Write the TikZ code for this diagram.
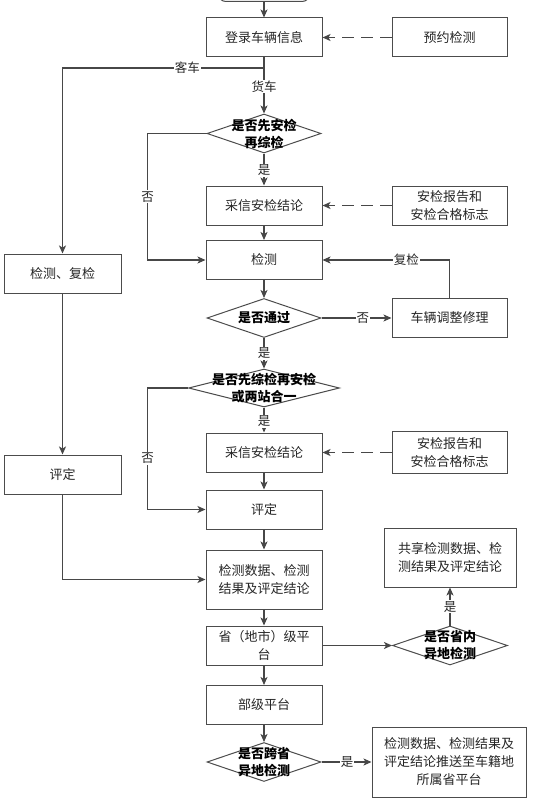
\documentclass[tikz,border=0pt]{standalone}
\usepackage{fontspec}
\setmainfont{Noto Sans CJK SC}
\usetikzlibrary{shapes.geometric,arrows.meta}

\begin{document}
\begin{tikzpicture}[x=1pt,y=-1pt,
  line/.style={draw=black!72,line width=1.2pt},
  arrow/.style={line,-{Stealth[length=8pt,width=7pt,inset=2pt]}},
  dasharrow/.style={arrow,dash pattern=on 12pt off 7pt},
  box/.style={draw=black!70,line width=1pt,minimum width=116pt,minimum height=39pt,
    inner sep=2pt,align=center,font=\fontsize{13}{18}\selectfont,text=black!85},
  decision/.style={diamond,draw=black!70,line width=1pt,minimum width=114pt,
    minimum height=39pt,inner sep=0pt},
  dtext/.style={font=\fontsize{13}{17}\selectfont\bfseries,align=center,inner sep=0pt},
  elabel/.style={fill=white,inner sep=1pt,font=\fontsize{12.5}{14}\selectfont,text=black!85}]
\useasboundingbox (0,0) rectangle (552,808);
\node[box,rounded corners=8pt,minimum width=92pt] (start) at (264,-18) {};
\node[box] (login) at (264,37.5) {登录车辆信息};
\node[box,minimum width=115pt] (reserve) at (449.5,37.5) {预约检测};
\node[decision,label={[dtext]center:{是否先安检\\再综检}}] (d1) at (264,133.5) {};
\node[box] (adopt1) at (264,205.5) {采信安检结论};
\node[box,minimum width=115pt] (report1) at (449.5,205.5) {安检报告和\\安检合格标志};
\node[box] (check) at (264,260) {检测};
\node[box,minimum width=117pt] (recheck) at (62.5,273.5) {检测、复检};
\node[decision,label={[dtext]center:是否通过}] (pass) at (264,318) {};
\node[box,minimum width=115pt] (repair) at (449.5,318) {车辆调整修理};
\node[decision,minimum width=151pt,minimum height=38pt,
  label={[dtext]center:{是否先综检再安检\\或两站合一}}] (d2) at (264,388) {};
\node[box] (adopt2) at (264,452.5) {采信安检结论};
\node[box,minimum width=115pt,minimum height=42pt] (report2) at (449.5,452.5) {安检报告和\\安检合格标志};
\node[box] (assess) at (264,509.5) {评定};
\node[box,minimum width=117pt] (assessl) at (62.5,474.5) {评定};
\node[box,minimum height=59pt] (data) at (264,579.5) {检测数据、检测\\结果及评定结论};
\node[box,minimum width=132pt,minimum height=59pt] (share) at (450,557.5) {共享检测数据、检\\测结果及评定结论};
\node[box] (prov) at (264,645.5) {省（地市）级平\\台};
\node[decision,minimum width=115pt,label={[dtext]center:{是否省内\\异地检测}}] (d3) at (450,645.5) {};
\node[box] (nation) at (264,705) {部级平台};
\node[decision,label={[dtext]center:{是否跨省\\异地检测}}] (d4) at (264,762) {};
\node[box,minimum width=154pt,minimum height=70pt] (push) at (449,762) {检测数据、检测结果及\\评定结论推送至车籍地\\所属省平台};
\coordinate (split) at (264,68);
\draw[arrow] (start) -- (login);
\draw[dasharrow] (reserve) -- (login);
\draw[line] (login) -- (split);
\draw[arrow] (split) -| node[elabel,pos=.19]{客车} (recheck);
\draw[arrow] (split) -- node[elabel,pos=.41]{货车} (d1);
\draw[arrow] (d1.west) -- ++(-59,0) |- node[elabel,pos=.25]{否} (check);
\draw[arrow] (d1) -- node[elabel,pos=.52]{是} (adopt1);
\draw[dasharrow] (report1) -- (adopt1);
\draw[arrow] (adopt1) -- (check);
\draw[arrow] (check) -- (pass);
\draw[arrow] (pass) -- node[elabel,pos=.59]{否} (repair);
\draw[arrow] (repair) |- node[elabel,pos=.67]{复检} (check);
\draw[arrow] (pass) -- node[elabel,pos=.5]{是} (d2);
\draw[arrow] (d2.west) -- ++(-40.5,0) |- node[elabel,pos=.29]{否} (assess);
\draw[arrow] (d2) -- node[elabel,pos=.54]{是} (adopt2);
\draw[dasharrow] (report2) -- (adopt2);
\draw[arrow] (adopt2) -- (assess);
\draw[arrow] (recheck) -- (assessl);
\draw[arrow] (assessl) |- (data);
\draw[arrow] (assess) -- (data);
\draw[arrow] (data) -- (prov);
\draw[arrow] (prov) -- (d3);
\draw[arrow] (d3) -- node[elabel,pos=.49]{是} (share);
\draw[arrow] (prov) -- (nation);
\draw[arrow] (nation) -- (d4);
\draw[arrow] (d4) -- node[elabel,pos=.51]{是} (push);
\end{tikzpicture}
\end{document}
